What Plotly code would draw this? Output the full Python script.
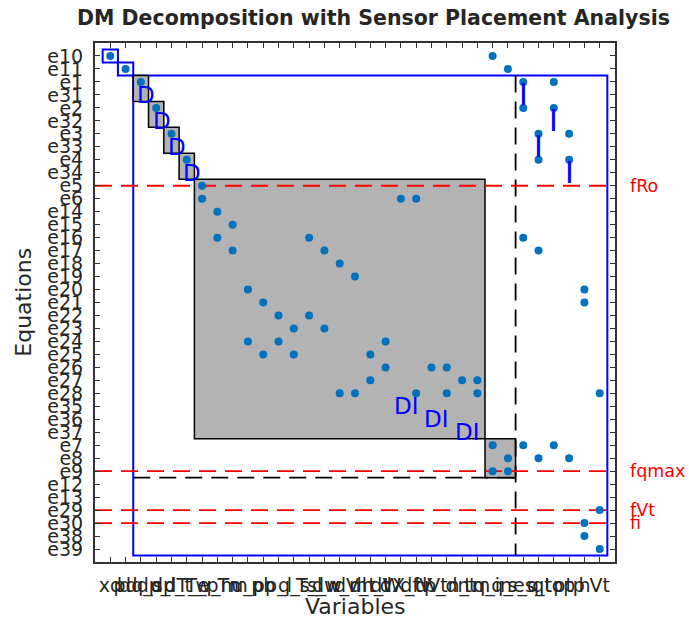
import plotly.graph_objects as go

# ---- structure data -------------------------------------------------------
equations = ["e10", "e11", "e1", "e31", "e2", "e32", "e3", "e33", "e4", "e34",
             "e5", "e6", "e14", "e15", "e16", "e17", "e18", "e19", "e20", "e21",
             "e22", "e23", "e24", "e25", "e26", "e27", "e28", "e35", "e36", "e37",
             "e7", "e8", "e9", "e12", "e13", "e29", "e30", "e38", "e39"]

variables = ["xd", "pd", "dq_s", "dp_l", "dp_t", "dT_e", "T_p", "w_m", "Tm",
             "u_p", "pb", "p_l", "q_s", "T_l", "s_w", "dw_m", "dV_t", "dh_t",
             "dW", "dX_t", "dfV", "dVt", "p_dn", "n_t", "tm", "q_in", "q_e",
             "s_q", "s_t", "qtop", "ptp", "h", "Vt"]

# variable columns (1-based) used by each equation
incidence = {
    "e10": [1, 26], "e11": [2, 27],
    "e1": [3, 28, 30], "e2": [4, 28, 30], "e3": [5, 29, 31], "e4": [6, 29, 31],
    "e5": [7], "e6": [7, 20, 21], "e14": [8], "e15": [9],
    "e16": [8, 14, 28], "e17": [9, 15, 29], "e18": [16], "e19": [17],
    "e20": [10, 32], "e21": [11, 32], "e22": [12, 14], "e23": [13, 15],
    "e24": [10, 12, 19], "e25": [11, 13, 18], "e26": [19, 22, 23],
    "e27": [18, 24, 25], "e28": [16, 17, 21, 23, 25, 33],
    "e7": [26, 28, 30], "e8": [27, 29, 31], "e9": [26, 27],
    "e29": [33], "e30": [32], "e38": [32], "e39": [33],
}

# blocks as (first equation, last equation, first variable, last variable)
under_blocks = [("e10", "e10", 1, 1), ("e11", "e11", 2, 2)]
over_part = ("e1", "e39", 3, 33)
square_blocks = [("e1", "e31", 3, 3), ("e2", "e32", 4, 4), ("e3", "e33", 5, 5),
                 ("e4", "e34", 6, 6), ("e5", "e37", 7, 25), ("e7", "e9", 26, 27)]
split_var = (27, 28)          # dashed vertical between these variables
split_eq = ("e9", "e12")      # dashed horizontal between these equations

faults = ["fRo", "fqmax", "fVt", "fi"]
fault_eqs = ["e5", "e9", "e29", "e30"]

# detectability / isolability marks: (equation, variable, text)
d_marks = [("e31", 3, "D"), ("e32", 4, "D"), ("e33", 5, "D"), ("e34", 6, "D"),
           ("e35", 20, "DI"), ("e36", 22, "DI"), ("e37", 24, "DI")]
i_marks = [("e31", 28, "I"), ("e32", 30, "I"), ("e33", 29, "I"), ("e34", 31, "I")]

# ---- figure ---------------------------------------------------------------
row = {e: i + 1 for i, e in enumerate(equations)}
n_eq, n_var = len(equations), len(variables)
FONT = "DejaVu Sans"
GRAY = "#262626"

xs, ys = [], []
for e, cols in incidence.items():
    for c in cols:
        xs.append(c)
        ys.append(row[e])

fig = go.Figure()
fig.add_trace(go.Scatter(x=xs, y=ys, mode="markers", hoverinfo="skip",
                         marker=dict(color="#0072BD", size=8, line=dict(width=0)),
                         showlegend=False))


def rect(blk, **kw):
    e0, e1, v0, v1 = blk
    fig.add_shape(type="rect", xref="x", yref="y", layer="below",
                  x0=v0 - 0.5, x1=v1 + 0.5, y0=row[e0] - 0.5, y1=row[e1] + 0.5, **kw)


for b in under_blocks:
    rect(b, line=dict(color="blue", width=2), fillcolor="rgba(0,0,0,0)")
rect(over_part, line=dict(color="blue", width=2), fillcolor="rgba(0,0,0,0)")
for b in square_blocks:
    rect(b, line=dict(color="black", width=1.5), fillcolor="#b3b3b3")

dash = "17px,9px"
xv = (split_var[0] + split_var[1]) / 2
fig.add_shape(type="line", xref="x", yref="y", layer="below",
              x0=xv, x1=xv, y0=row[over_part[0]] - 0.5, y1=row[over_part[1]] + 0.5,
              line=dict(color="black", width=1.8, dash=dash))
yh = (row[split_eq[0]] + row[split_eq[1]]) / 2
fig.add_shape(type="line", xref="x", yref="y", layer="below",
              x0=over_part[2] - 0.5, x1=xv, y0=yh, y1=yh,
              line=dict(color="black", width=1.8, dash=dash))

for f, e in zip(faults, fault_eqs):
    fig.add_shape(type="line", xref="x", yref="y", layer="below",
                  x0=0, x1=n_var + 1, y0=row[e], y1=row[e],
                  line=dict(color="red", width=1.8, dash=dash))
    fig.add_annotation(x=1.025, xref="paper", y=row[e], yref="y", text=f,
                       showarrow=False, xanchor="left", yanchor="middle",
                       font=dict(family=FONT, size=17.5, color="red"))

for e, v, t in d_marks:
    fig.add_annotation(x=v + 0.35, y=row[e], text=t, showarrow=False,
                       xanchor="center", yanchor="middle",
                       font=dict(family=FONT, size=23, color="blue"))
for e, v, t in i_marks:
    fig.add_annotation(x=v, y=row[e], text=t, showarrow=False,
                       xanchor="center", yanchor="middle",
                       font=dict(family=FONT, size=30, color="blue"))

axis_common = dict(showline=True, mirror="ticks", linecolor="#333333", linewidth=2,
                   ticks="inside", ticklen=5, tickcolor="#333333", tickwidth=1,
                   showgrid=False, zeroline=False,
                   tickfont=dict(family=FONT, size=19, color=GRAY))

fig.update_xaxes(range=[0, n_var + 1], tickmode="array",
                 tickvals=list(range(1, n_var + 1)), ticktext=variables,
                 tickangle=0, ticklabelstandoff=5, **axis_common)
fig.update_yaxes(range=[n_eq + 1, 0], tickmode="array",
                 tickvals=list(range(1, n_eq + 1)), ticktext=equations,
                 ticklabelstandoff=6, **axis_common)

fig.add_annotation(x=0.5, xref="paper", y=-0.085, yref="paper", text="Variables",
                   showarrow=False, xanchor="center", yanchor="middle",
                   font=dict(family=FONT, size=22, color=GRAY))
fig.add_annotation(x=-0.138, xref="paper", y=0.5, yref="paper", text="Equations",
                   showarrow=False, xanchor="center", yanchor="middle", textangle=-90,
                   font=dict(family=FONT, size=22, color=GRAY))

fig.update_layout(
    width=689, height=621,
    margin=dict(l=95, r=74, t=43, b=59),
    paper_bgcolor="white", plot_bgcolor="white",
    title=dict(text="<b>DM Decomposition with Sensor Placement Analysis</b>",
               x=0.542, xref="container", xanchor="center",
               y=0.971, yref="container", yanchor="middle",
               font=dict(family=FONT, size=20.5, color="#262626")),
)

fig.write_html("out.html")
